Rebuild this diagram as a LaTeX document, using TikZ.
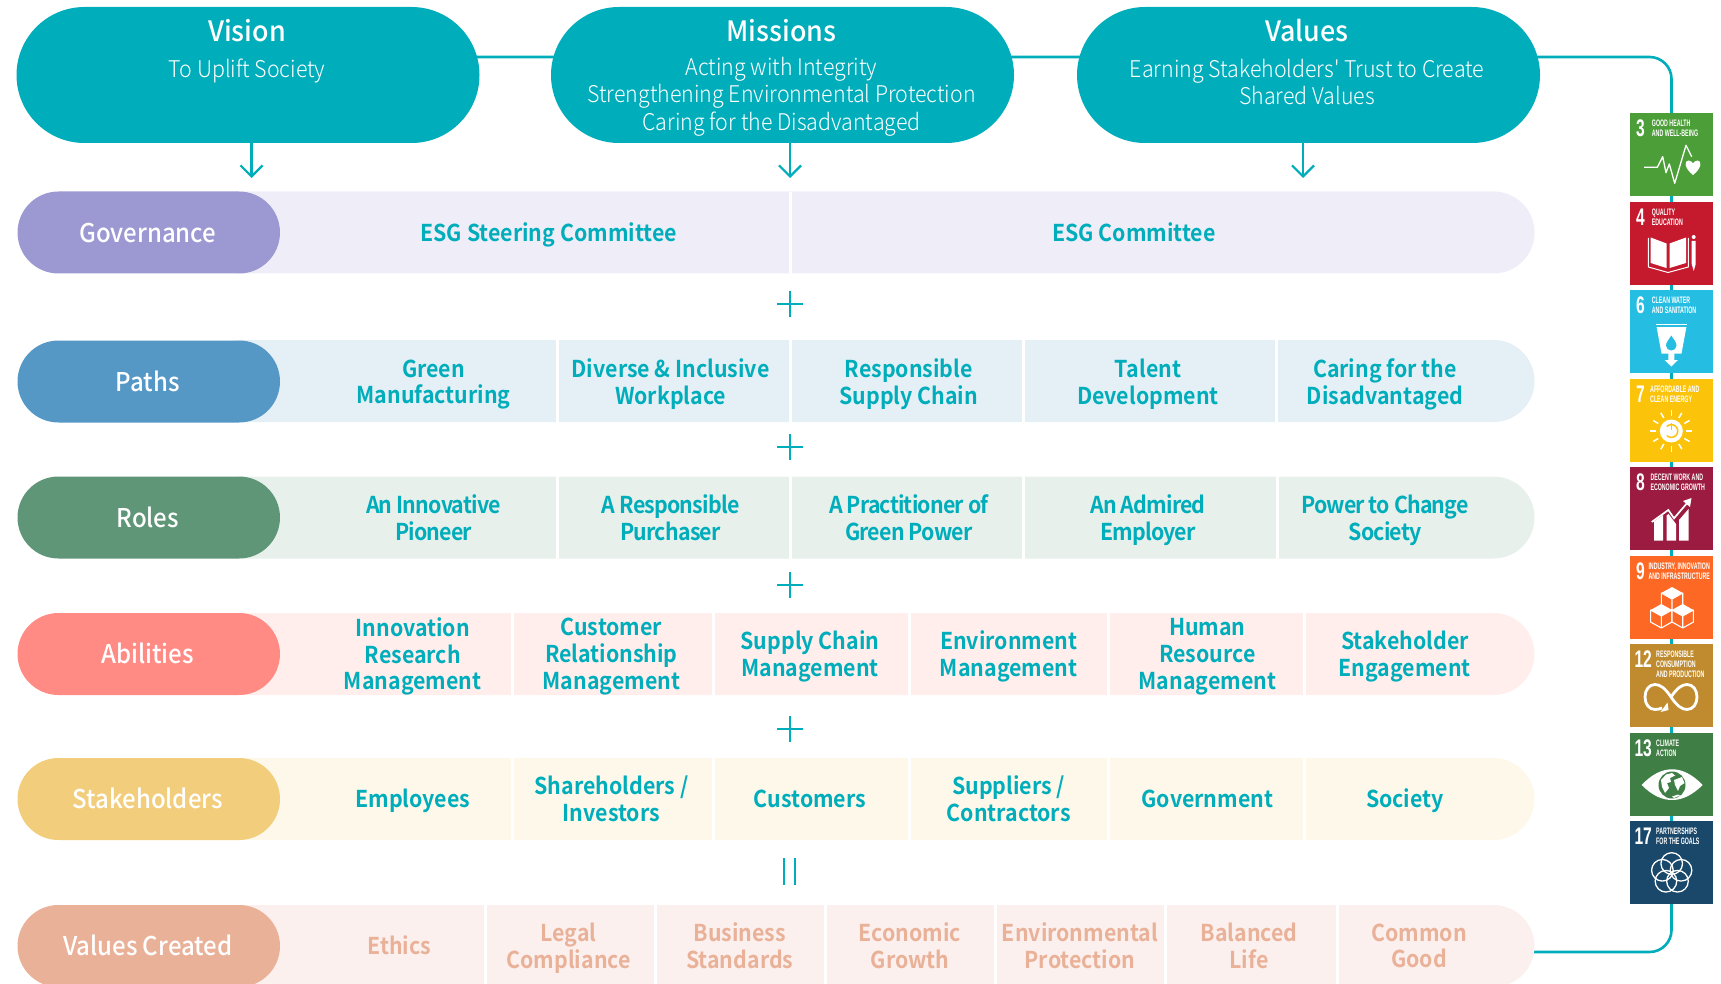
\documentclass[tikz,border=0pt]{standalone}
\usepackage{fontspec}
\usetikzlibrary{arrows.meta,backgrounds}
\setmainfont{Noto Sans CJK SC}
\newfontfamily\flight[FakeStretch=0.93]{Noto Sans CJK SC Light}
\newfontfamily\ftitle[FakeStretch=0.96]{Noto Sans CJK SC Medium}
\newfontfamily\fpill[FakeStretch=0.93]{Noto Sans CJK SC Medium}
\newfontfamily\fbold[FakeStretch=0.92]{Noto Sans CJK SC Bold}
\newfontfamily\fboldt[FakeStretch=0.92,LetterSpace=-3.5]{Noto Sans CJK SC Bold}
\newfontfamily\fsdg[FakeStretch=0.56]{Liberation Sans Bold}
\newfontfamily\fnum[FakeStretch=0.65]{Liberation Sans Bold}
\definecolor{teal}{HTML}{00ADBB}
\definecolor{govP}{HTML}{9C98D2}\definecolor{govB}{HTML}{EFEEF8}
\definecolor{patP}{HTML}{5597C5}\definecolor{patB}{HTML}{E5EFF6}
\definecolor{rolP}{HTML}{5F9678}\definecolor{rolB}{HTML}{E7F0EB}
\definecolor{abiP}{HTML}{FF8B84}\definecolor{abiB}{HTML}{FFEEEC}
\definecolor{staP}{HTML}{F2CE7C}\definecolor{staB}{HTML}{FDF8EA}
\definecolor{valP}{HTML}{EAB199}\definecolor{valB}{HTML}{FBF0ED}
\definecolor{sdgA}{HTML}{4C9F38}\definecolor{sdgB}{HTML}{C5192D}
\definecolor{sdgC}{HTML}{26BDE2}\definecolor{sdgD}{HTML}{FCC30B}
\definecolor{sdgE}{HTML}{9C1B40}\definecolor{sdgF}{HTML}{FD6925}
\definecolor{sdgG}{HTML}{BF8B2E}\definecolor{sdgH}{HTML}{3F7E44}
\definecolor{sdgI}{HTML}{19486A}
\newcommand{\vp}{\vphantom{Ág}}
\tikzset{
  x=1pt,y=-1pt,
  phant/.style={execute at begin node=\vp,execute at end node=\vp},
  bigpill/.style={fill=teal,rounded corners=68pt,minimum width=463pt,minimum height=136pt,inner sep=0pt},
  bigtitle/.style={phant,text=white,font=\ftitle\fontsize{28}{30}\selectfont,inner sep=0pt},
  bigsub/.style={phant,text=white,align=center,font=\flight\fontsize{23}{27.2}\selectfont,inner sep=0pt},
  rowpill/.style={rounded corners=41pt,minimum width=262.5pt,minimum height=82pt,inner sep=0pt,text=white,font=\fpill\fontsize{25.8}{28}\selectfont,execute at begin node=\vp,execute at end node=\vp\kern2pt},
  band/.style={rounded corners=41pt,minimum width=1334.5pt,minimum height=82pt,inner sep=0pt},
  onecell/.style={phant,text=teal,align=center,inner sep=0pt,font=\fbold\fontsize{23.2}{26.7}\selectfont},
  cell/.style={onecell,yshift=-2.7pt},
  rcell/.style={cell,font=\fboldt\fontsize{23.2}{26.7}\selectfont},
  vcell/.style={cell,text=valP},
  divider/.style={white,line width=3pt},
  conn/.style={teal,line width=2.6pt,rounded corners=22pt},
  arr/.style={teal,line width=2.2pt,-{Straight Barb[length=11pt,width=22pt,line width=2.2pt]}},
  signline/.style={teal,line width=2.2pt},
  tile/.style={minimum width=83pt,minimum height=83pt,inner sep=0pt,anchor=north west},
  tnum/.style={text=white,anchor=west,inner sep=0pt,font=\fnum\fontsize{24}{24}\selectfont},
  tlab/.style={text=white,anchor=north west,align=left,inner sep=0pt,font=\fsdg\fontsize{9.4}{9.9}\selectfont},
  ic/.style={white,line width=1.3pt,line join=round}
}
\newcommand{\sdgtile}[8]{% id, top, colour, number, numx, labx, label, icon
  \node[tile,fill=#3] (tile#1) at (1630,#2) {};
  \begin{scope}[shift={(1630,#2)}]
    \node[tnum] (num#1) at (#5,15.5) {#4};
    \node[tlab] (lab#1) at (#6,6.5) {#7};
    #8
  \end{scope}
}
\newcommand{\isocube}[2]{%
  \fill[white] (#1,#2-6) -- (#1+10.7,#2) -- (#1,#2+6) -- (#1-10.7,#2) -- cycle;
  \draw[white,line width=1.1pt,line join=round,fill=sdgF] (#1-10.7,#2) -- (#1-10.7,#2+12) -- (#1,#2+18) -- (#1+10.7,#2+12) -- (#1+10.7,#2) -- (#1,#2+6) -- cycle (#1,#2+6) -- (#1,#2+18);
}
\begin{document}
\begin{tikzpicture}
\useasboundingbox (0,0) rectangle (1721,984);
\clip (0,0) rectangle (1721,984);
% top pills
\node[bigpill] (vision) at (248,75) {};
\node[bigpill] (missions) at (782.5,75) {};
\node[bigpill] (values) at (1308.5,75) {};
\node[bigtitle] (visionT) at (247,31) {Vision};
\node[bigsub] (visionS) at (247,70) {To Uplift Society};
\node[bigtitle] (missionsT) at (781.5,31) {Missions};
\node[bigsub] (missionsS) at (781.5,96.7) {Acting with Integrity\\Strengthening Environmental Protection\\Caring for the Disadvantaged};
\node[bigtitle] (valuesT) at (1307,31) {Values};
\node[bigsub] (valuesS) at (1307,84.5) {Earning Stakeholders' Trust to Create\\Shared Values};
% bands
\node[band,fill=govB] (govBand) at (867.25,232.5) {};
\node[band,fill=patB] (patBand) at (867.25,381) {};
\node[band,fill=rolB] (rolBand) at (867.25,517.5) {};
\node[band,fill=abiB] (abiBand) at (867.25,654) {};
\node[band,fill=staB] (staBand) at (867.25,799) {};
\node[band,fill=valB] (valBand) at (867.25,946) {};
% dividers
\draw[divider] (790,192) -- (790,274);
\foreach \x in {557.6,790,1023,1276.5} \draw[divider] (\x,340) -- (\x,422);
\foreach \x in {557.6,790,1023,1277.5} \draw[divider] (\x,476) -- (\x,559);
\foreach \x in {512.6,713.5,909,1108.6,1304} \draw[divider] (\x,613) -- (\x,695);
\foreach \x in {512.6,713.5,909,1108.6,1304} \draw[divider] (\x,758) -- (\x,840);
\foreach \x in {485,655,825,995.5,1165.6,1337} \draw[divider] (\x,905) -- (\x,988);
% row pills
\node[rowpill,fill=govP] (gov) at (148.75,232.5) {Governance};
\node[rowpill,fill=patP] (pat) at (148.75,381.5) {Paths};
\node[rowpill,fill=rolP] (rol) at (148.75,517.5) {Roles};
\node[rowpill,fill=abiP] (abi) at (148.75,654) {Abilities};
\node[rowpill,fill=staP] (sta) at (148.75,799) {Stakeholders};
\node[rowpill,fill=valP] (val) at (148.75,946) {Values Created};
% cells
\node[onecell] (g1) at (548.8,232.5) {ESG Steering Committee};
\node[onecell] (g2) at (1133.8,232.5) {ESG Committee};
\node[cell] (p1) at (433.5,382) {Green\\Manufacturing};
\node[cell] (p2) at (670.6,382) {Diverse \& Inclusive\\Workplace};
\node[cell] (p3) at (908.8,382) {Responsible\\Supply Chain};
\node[cell] (p4) at (1148,382) {Talent\\Development};
\node[cell] (p5) at (1385,382) {Caring for the\\Disadvantaged};
\node[rcell] (r1) at (433.5,518) {An Innovative\\Pioneer};
\node[rcell] (r2) at (670.6,518) {A Responsible\\Purchaser};
\node[rcell] (r3) at (908.8,518) {A Practitioner of\\Green Power};
\node[rcell] (r4) at (1148,518) {An Admired\\Employer};
\node[rcell] (r5) at (1385,518) {Power to Change\\Society};
\node[cell] (a1) at (412.7,654) {Innovation\\Research\\Management};
\node[cell] (a2) at (611.4,654) {Customer\\Relationship\\Management};
\node[cell] (a3) at (810,654) {Supply Chain\\Management};
\node[cell] (a4) at (1008.7,654) {Environment\\Management};
\node[cell] (a5) at (1207.3,654) {Human\\Resource\\Management};
\node[cell] (a6) at (1404.9,654) {Stakeholder\\Engagement};
\node[onecell] (s1) at (412.7,799) {Employees};
\node[cell] (s2) at (611.4,799) {Shareholders /\\Investors};
\node[onecell] (s3) at (810,799) {Customers};
\node[cell] (s4) at (1008.7,799) {Suppliers /\\Contractors};
\node[onecell] (s5) at (1207.3,799) {Government};
\node[onecell] (s6) at (1404.9,799) {Society};
\node[onecell,text=valP] (v1) at (399.5,946) {Ethics};
\node[vcell] (v2) at (568.6,946) {Legal\\Compliance};
\node[vcell] (v3) at (739.8,946) {Business\\Standards};
\node[vcell] (v4) at (910,946) {Economic\\Growth};
\node[vcell] (v5) at (1080,946) {Environmental\\Protection};
\node[vcell] (v6) at (1249,946) {Balanced\\Life};
\node[vcell] (v7) at (1419,946) {Common\\Good};
% plus and equals
\foreach \y in {304,447,585,729} {
  \draw[signline] (790,\y-13) -- (790,\y+13);
  \draw[signline] (777,\y) -- (803,\y);
}
\draw[signline] (784,858) -- (784,885);
\draw[signline] (795,858) -- (795,885);
% arrows
\coordinate (aV) at (251.5,178);
\coordinate (aM) at (790,178);
\coordinate (aW) at (1303,178);
\draw[arr] (vision.south -| aV) -- (aV);
\draw[arr] (missions.south -| aM) -- (aM);
\draw[arr] (values.south -| aW) -- (aW);
% connector
\coordinate (cTop) at (1671.5,57);
\coordinate (cBot) at (1671.5,952);
\begin{pgfonlayer}{background}
\draw[conn] (vision.center |- cTop) -- (cTop) -- (cBot) -- (valBand.center |- cBot);
\end{pgfonlayer}
% SDG tiles
\sdgtile{3}{113}{sdgA}{3}{6}{21.7}{GOOD HEALTH\\AND WELL-BEING}{
  \draw[ic] (14,54.3) -- (27.3,54.3) -- (32.7,43.7) -- (36,59.7) -- (39.3,51) -- (44.7,70.3) -- (56,32.3) -- (61.7,43.7);
  \fill[white] (63,62) .. controls (54,55) and (54,47.5) .. (58.5,47.5) .. controls (61,47.5) and (62.6,49.5) .. (63,50.5) .. controls (63.4,49.5) and (65,47.5) .. (67.5,47.5) .. controls (72,47.5) and (72,55) .. (63,62) -- cycle;
}
\sdgtile{4}{202}{sdgB}{4}{6}{21.7}{QUALITY\\EDUCATION}{
  \fill[white] (20.7,35.5) -- (36.5,41.5) -- (36.5,66) -- (20.7,61) -- cycle;
  \fill[white] (39.5,41.5) -- (56,35.5) -- (56,61) -- (39.5,66) -- cycle;
  \draw[ic,line width=1pt] (18.3,36) -- (18.3,65) -- (38,70.5) -- (58.3,65) -- (58.3,36);
  \fill[white] (61.7,39) -- (65.7,39) -- (65.7,62) -- (63.7,69) -- (61.7,62) -- cycle;
  \fill[white] (63.7,35) circle (2);
}
\sdgtile{6}{290}{sdgC}{6}{6}{21.7}{CLEAN WATER\\AND SANITATION}{
  \draw[white,line width=1pt] (26,34.5) -- (57,34.5);
  \fill[white] (26.6,37) -- (56.4,37) -- (51.5,63.5) -- (31.5,63.5) -- cycle;
  \fill[sdgC] (41.3,45.5) .. controls (39,49.5) and (36,52) .. (36,55.5) .. controls (36,58.5) and (38.5,60.5) .. (41.3,60.5) .. controls (44,60.5) and (46.5,58.5) .. (46.5,55.5) .. controls (46.5,52) and (43.5,49.5) .. (41.3,45.5) -- cycle;
  \fill[white] (38.3,63) -- (44.3,63) -- (44.3,70) -- (48,70) -- (41.3,76.5) -- (34.6,70) -- (38.3,70) -- cycle;
}
\sdgtile{7}{379}{sdgD}{7}{6}{20}{AFFORDABLE AND\\CLEAN ENERGY}{
  \fill[white] (41.3,52) circle (11.5);
  \draw[sdgD,line width=1.5pt] (36.8,47.5) arc[start angle=-135,end angle=135,radius=6.4];
  \draw[sdgD,line width=1.6pt] (41.3,43.5) -- (41.3,51);
  \foreach \a in {0,30,...,330} \draw[white,line width=1.5pt] ([shift={(\a:15)}]41.3,52) -- ([shift={(\a:21)}]41.3,52);
}
\sdgtile{8}{467}{sdgE}{8}{6}{20.3}{DECENT WORK AND\\ECONOMIC GROWTH}{
  \fill[white] (24,73.7) -- (33,73.7) -- (33,48) -- (24,54.5) -- cycle;
  \fill[white] (36.5,73.7) -- (46,73.7) -- (46,57) -- (38.5,47) -- (36.5,48.5) -- cycle;
  \fill[white] (49,73.7) -- (58.5,73.7) -- (58.5,42) -- (49,53) -- cycle;
  \draw[white,line width=1.7pt] (21.7,55) -- (38.3,43) -- (44,51.3) -- (58,35);
  \fill[white] (61.5,31) -- (60,40) -- (53,34) -- cycle;
}
\sdgtile{9}{556}{sdgF}{9}{6}{18.3}{INDUSTRY, INNOVATION\\AND INFRASTRUCTURE}{
  \isocube{42}{37}
  \isocube{31.3}{54}
  \isocube{52.7}{54}
}
\sdgtile{12}{644}{sdgG}{12}{4.3}{26}{RESPONSIBLE\\CONSUMPTION\\AND PRODUCTION}{
  \draw[white,line width=2.8pt] (41,53) .. controls (47,44) and (52,40.5) .. (57,40.5) .. controls (63,40.5) and (67,46) .. (67,53) .. controls (67,60) and (63,65.5) .. (57,65.5) .. controls (52,65.5) and (47,62) .. (41,53) .. controls (35,44) and (30,40.5) .. (25,40.5) .. controls (19,40.5) and (15,46) .. (15,53) .. controls (15,60) and (19,65.5) .. (25,65.5) .. controls (27.5,65.5) and (30,65) .. (32,64);
  \fill[white] (37.5,58.5) -- (38.5,66) -- (30.5,68) -- cycle;
}
\sdgtile{13}{733}{sdgH}{13}{4.3}{26}{CLIMATE\\ACTION}{
  \fill[white] (11.7,52) .. controls (22,41) and (32,36.3) .. (42.2,36.3) .. controls (52,36.3) and (62,41) .. (72.7,52) .. controls (62,62.5) and (52,67) .. (42.2,67) .. controls (32,67) and (22,62.5) .. (11.7,52) -- cycle;
  \fill[sdgH] (42,52) circle (13.5);
  \fill[white] (31,47) -- (36,41.5) -- (42,40) -- (45,42.5) -- (40,45) -- (41,49) -- (37,50) -- (39,55) -- (35,60) -- (32,54) -- cycle;
  \fill[white] (44,47) -- (52,44) -- (54.5,50) -- (50,53) -- (48,58) -- (45,52) -- cycle;
  \fill[white] (42,63.5) -- (48,61.5) -- (50,62.5) -- (44,65) -- cycle;
}
\sdgtile{17}{821}{sdgI}{17}{4.3}{26}{PARTNERSHIPS\\FOR THE GOALS}{
  \foreach \a in {-90,-18,54,126,198}
    \draw[white,line width=1.3pt] ([shift={(\a:9.8)}]41.7,52.3) circle (10.8);
}
\end{tikzpicture}
\end{document}
